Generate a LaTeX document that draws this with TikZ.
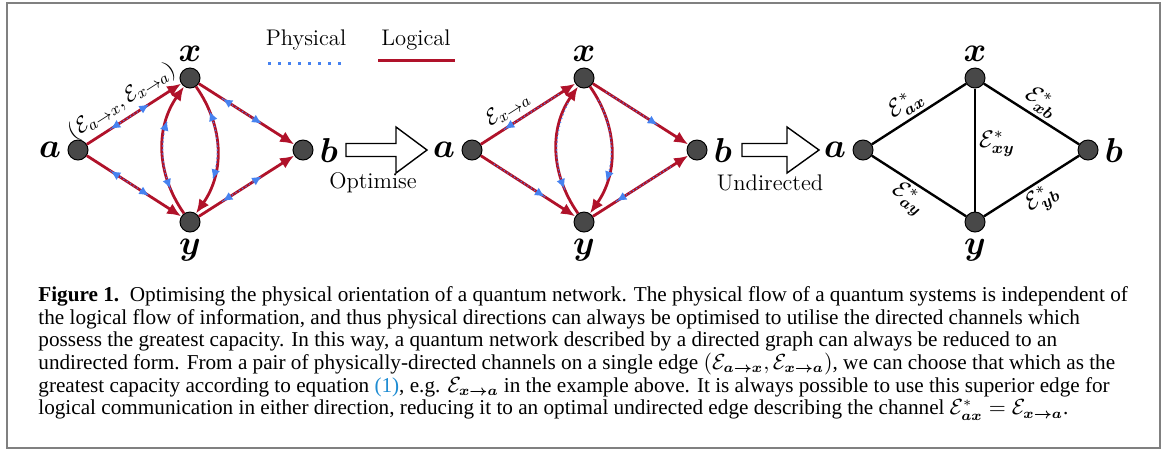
\documentclass[tikz,border=0pt]{standalone}
\usepackage{amsmath,amssymb,bm}
\usepackage{fontspec}
\usepackage{tikz}
\usetikzlibrary{arrows.meta,positioning,decorations.markings}
\newfontfamily\capfont{Liberation Serif}
\definecolor{lred}{RGB}{176,18,42}
\definecolor{pblue}{RGB}{70,130,240}
\definecolor{vgray}{RGB}{72,72,72}
\definecolor{framegray}{RGB}{128,128,128}
\definecolor{linkblue}{RGB}{30,140,210}
\tikzset{
  vtx/.style={circle,draw=black,fill=vgray,line width=0.5pt,minimum size=10pt,inner sep=0pt},
  logical/.style={draw=lred,line width=1.4pt,-{Latex[length=7pt,width=6pt]}},
  twoway/.style={postaction=decorate,decoration={markings,
    mark=between positions 14pt and -19pt step 2pt with {\fill[pblue] (0,0) circle (0.4pt);},
    mark=at position 14pt with {\arrowreversed{Latex[length=5pt,width=4.5pt,color=pblue]}},
    mark=at position -19pt with {\arrow{Latex[length=5pt,width=4.5pt,color=pblue]}}}},
  fwd/.style={postaction=decorate,decoration={markings,
    mark=between positions 8pt and -18pt step 2pt with {\fill[pblue] (0,0) circle (0.4pt);},
    mark=at position -18pt with {\arrow{Latex[length=5pt,width=4.5pt,color=pblue]}}}},
  bwd/.style={postaction=decorate,decoration={markings,
    mark=between positions 14pt and -9pt step 2pt with {\fill[pblue] (0,0) circle (0.4pt);},
    mark=at position 14pt with {\arrowreversed{Latex[length=5pt,width=4.5pt,color=pblue]}}}},
  undirected/.style={draw=black,line width=1.2pt},
  elbl/.style={font=\large,inner sep=1.5pt},
  dlbl/.style={font=\fontsize{11}{13}\selectfont,inner sep=2.5pt},
  legend/.style={font=\fontsize{11.3}{13}\selectfont,inner sep=0pt},
  bigarrow/.style={draw=black,fill=white,line width=0.7pt,line join=miter},
  caption/.style={font=\capfont\fontsize{10.6}{11.35}\selectfont,align=left,inner sep=0pt}
}
\begin{document}
\begin{tikzpicture}[x=0.5pt,y=-0.5pt,every label/.style={font=\LARGE,inner sep=2pt},label distance=1pt]
\useasboundingbox (0,0) rectangle (1165,452);
\draw[framegray,line width=1.1pt] (7,3) rectangle (1160,448);
\foreach \g/\dx in {1/0,2/394,3/785}{
  \node[vtx,label=left:$\boldsymbol{a}$] (a\g) at (78+\dx,150) {};
  \node[vtx,label=above:$\boldsymbol{x}$] (x\g) at (190+\dx,78) {};
  \node[vtx,label=below:$\boldsymbol{y}$] (y\g) at (190+\dx,222) {};
  \node[vtx,label=right:$\boldsymbol{b}$] (b\g) at (303+\dx,150) {};
}
\node[legend] (phys) at (306,40) {Physical}; \node[legend] (logi) at (416,40) {Logical};
\draw[pblue,line width=1.5pt,dash pattern=on 1.5pt off 3.5pt] (268,63) -- (343,63);
\draw[lred,line width=1.5pt] (378,60) -- (455,60);
\draw[logical,twoway] (a1) -- node[dlbl,sloped,above,pos=0.47] {$(\mathcal{E}_{a\to x},\mathcal{E}_{x\to a})$} (x1);
\draw[logical,twoway] (a1) -- (y1); \draw[logical,twoway] (x1) -- (b1); \draw[logical,twoway] (y1) -- (b1);
\draw[logical,twoway] (y1) to[bend left=35] (x1); \draw[logical,twoway] (x1) to[bend left=35] (y1);
\draw[logical,bwd] (a2) -- node[dlbl,sloped,above,pos=0.37] {$\mathcal{E}_{x\to a}$} (x2);
\draw[logical,fwd] (a2) -- (y2); \draw[logical,fwd] (x2) -- (b2); \draw[logical,bwd] (y2) -- (b2);
\draw[logical,bwd] (y2) to[bend left=35] (x2); \draw[logical,fwd] (x2) to[bend left=35] (y2);
\draw[bigarrow] (346,143.5) -- ++(50,0) -- ++(0,-16.5) -- ++(31,23) -- ++(-31,23) -- ++(0,-16.5) -- ++(-50,0) -- cycle;
\draw[bigarrow] (742,143.5) -- ++(45,0) -- ++(0,-16.5) -- ++(32,23) -- ++(-32,23) -- ++(0,-16.5) -- ++(-45,0) -- cycle;
\node[legend] (opt) at (373,183) {Optimise}; \node[legend] (undir) at (770,183) {Undirected};
\draw[undirected] (a3) -- node[elbl,sloped,above,pos=0.45] {$\mathcal{E}^*_{\boldsymbol{ax}}$} (x3);
\draw[undirected] (x3) -- node[elbl,sloped,above,pos=0.52] {$\mathcal{E}^*_{\boldsymbol{xb}}$} (b3);
\draw[undirected] (a3) -- node[elbl,sloped,below,pos=0.48] {$\mathcal{E}^*_{\boldsymbol{ay}}$} (y3);
\draw[undirected] (y3) -- node[elbl,sloped,below,pos=0.52] {$\mathcal{E}^*_{\boldsymbol{yb}}$} (b3);
\draw[undirected] (x3) -- node[elbl,right,pos=0.45] {$\mathcal{E}^*_{\boldsymbol{xy}}$} (y3);
\node[caption,anchor=north west] (cap) at (38,286) {{\bfseries Figure 1.}\enspace Optimising the physical orientation of a quantum network. The physical flow of a quantum systems is independent of\\
the logical flow of information, and thus physical directions can always be optimised to utilise the directed channels which\\
possess the greatest capacity. In this way, a quantum network described by a directed graph can always be reduced to an\\
undirected form. From a pair of physically-directed channels on a single edge $(\mathcal{E}_{\boldsymbol{a\to x}},\mathcal{E}_{\boldsymbol{x\to a}})$, we can choose that which as the\\
greatest capacity according to equation {\color{linkblue}(1)}, e.g. $\mathcal{E}_{\boldsymbol{x\to a}}$ in the example above. It is always possible to use this superior edge for\\
logical communication in either direction, reducing it to an optimal undirected edge describing the channel $\mathcal{E}^*_{\boldsymbol{ax}}=\mathcal{E}_{\boldsymbol{x\to a}}$.};
\end{tikzpicture}
\end{document}
